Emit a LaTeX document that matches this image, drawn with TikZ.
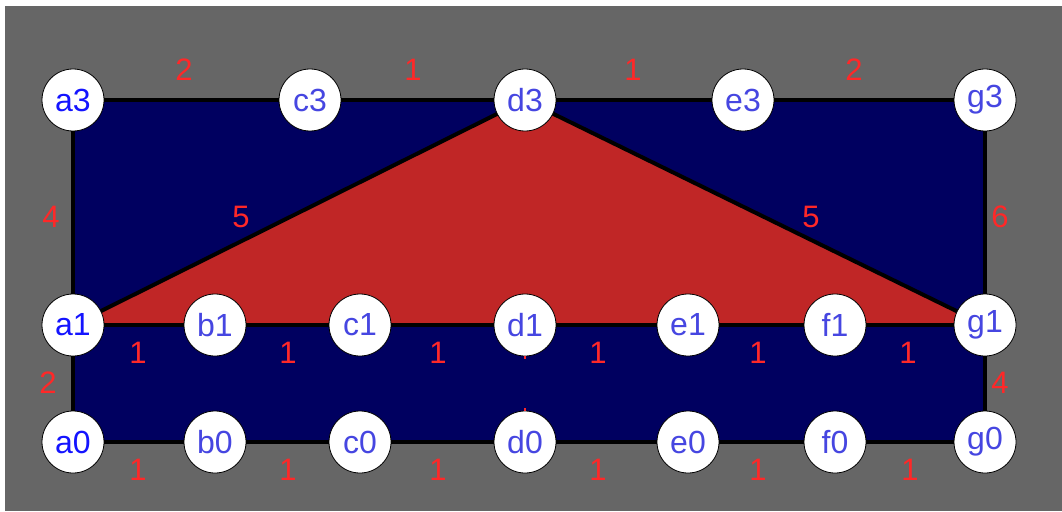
\documentclass[tikz,border=0pt]{standalone}
\usepackage{fontspec}
\setmainfont{Liberation Sans}
\definecolor{bggray}{RGB}{102,102,102}
\definecolor{navyfill}{RGB}{0,0,96}
\definecolor{redfill}{RGB}{192,38,38}
\definecolor{wred}{RGB}{255,40,40}
\definecolor{nblue}{RGB}{20,20,255}
\definecolor{nblue2}{RGB}{70,70,225}
\begin{document}
\begin{tikzpicture}[x=1pt,y=-1pt,
  vert/.style={circle,draw=black,line width=0.8pt,fill=white,minimum size=62pt,inner sep=0pt,
    font=\fontsize{32}{36}\selectfont,text=nblue2},
  avert/.style={vert,text=nblue},
  edge/.style={draw=black,line width=4pt},
  wt/.style={text=wred,font=\fontsize{31}{36}\selectfont,inner sep=0pt}]
\useasboundingbox (0,0) rectangle (1062,511);
\fill[white] (0,0) rectangle (1062,511);
\fill[bggray] (5,6) rectangle (1062,511);
% coordinates of vertices
\coordinate (A3) at (73,100);
\coordinate (G3) at (985,100);
\coordinate (A1) at (73,325);
\coordinate (D3) at (525,100);
\coordinate (G1) at (985,325);
\coordinate (A0) at (73,442);
\coordinate (G0) at (985,442);
% faces
\fill[navyfill] (A3) -- (G3) -- (G0) -- (A0) -- cycle;
\fill[redfill] (A1) -- (D3) -- (G1) -- cycle;
% edges
\draw[edge] (A3) -- (G3) -- (G1) -- (G0) -- (A0) -- (A1) -- cycle;
\draw[edge] (A1) -- (G1);
\draw[edge] (A1) -- (D3) -- (G1);
% vertices
\node[avert] (a3) at (A3) {a3};
\node[vert] (c3) at (310,100) {c3};
\node[vert] (d3) at (D3) {d3};
\node[vert] (e3) at (743,100) {e3};
\node[vert] (g3) at (G3) {g3};
\node[avert] (a1) at (A1) {a1};
\node[vert] (b1) at (215,325) {b1};
\node[vert] (c1) at (360,325) {c1};
\node[vert] (d1) at (525,325) {d1};
\node[vert] (e1) at (688,325) {e1};
\node[vert] (f1) at (835,325) {f1};
\node[vert] (g1) at (G1) {g1};
\node[avert] (a0) at (A0) {a0};
\node[vert] (b0) at (215,442) {b0};
\node[vert] (c0) at (360,442) {c0};
\node[vert] (d0) at (525,442) {d0};
\node[vert] (e0) at (688,442) {e0};
\node[vert] (f0) at (835,442) {f0};
\node[vert] (g0) at (G0) {g0};
% small red marks between d1 and d0
\draw[wred,line width=2pt] (d1.south) -- ++(0,3);
\draw[wred,line width=2pt] (d0.north) -- ++(0,-3);
% weights
\node[wt] at (184,70) {2};
\node[wt] at (413,70) {1};
\node[wt] at (633,70) {1};
\node[wt] at (854,70) {2};
\node[wt] at (51,217) {4};
\node[wt] at (1000,217) {6};
\node[wt] at (241,217) {5};
\node[wt] at (811,217) {5};
\node[wt] at (138,353) {1};
\node[wt] at (288,353) {1};
\node[wt] at (438,353) {1};
\node[wt] at (598,353) {1};
\node[wt] at (758,353) {1};
\node[wt] at (908,353) {1};
\node[wt] at (48,383) {2};
\node[wt] at (1000,383) {4};
\node[wt] at (138,470) {1};
\node[wt] at (288,470) {1};
\node[wt] at (438,470) {1};
\node[wt] at (598,470) {1};
\node[wt] at (758,470) {1};
\node[wt] at (910,470) {1};
\end{tikzpicture}
\end{document}
